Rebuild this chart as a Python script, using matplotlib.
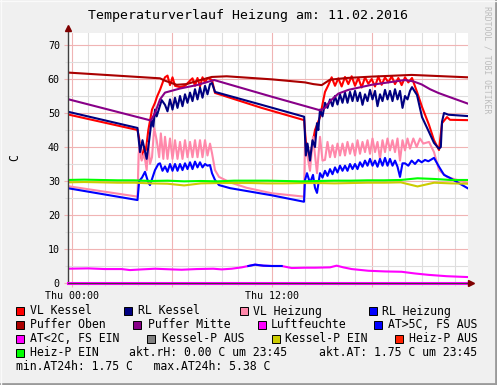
import numpy as np
import matplotlib
matplotlib.use("Agg")
import matplotlib.pyplot as plt
from matplotlib.lines import Line2D
from matplotlib.patches import Rectangle
from matplotlib.ticker import MultipleLocator

# ── Daten (Stunden ab Thu 00:00, Werte in °C) ───────────────────────
t_vlk = [-0.25, 3.95, 4.05, 4.2, 4.35, 4.45, 4.6, 4.82, 5.0, 5.12, 5.3, 5.5, 5.6, 5.75, 5.9,
         6.05, 6.2, 6.5, 6.8, 7.1, 7.25, 7.4, 7.55, 7.7, 7.85, 8.0, 8.15, 8.3, 8.42, 8.6,
         11.4, 13.95, 14.05, 14.3, 14.45, 14.6, 14.9, 15.1, 15.2, 15.4, 15.6, 15.8, 16.0,
         16.2, 16.4, 16.6, 16.8, 17.0, 17.2, 17.4, 17.6, 17.8, 18.0, 18.2, 18.4, 18.6, 18.8,
         19.0, 19.2, 19.4, 19.6, 19.8, 20.0, 20.2, 20.42, 20.72, 21.02, 21.44, 21.74, 22.04,
         22.22, 22.52, 22.7, 23.75]
vl_kessel = [49.6, 45.0, 42.5, 36.5, 40.0, 39.0, 45.0, 51.0, 53.0, 54.8, 56.8, 59.5, 60.5, 61.0, 58.2,
             60.5, 58.0, 57.6, 58.0, 59.5, 60.2, 58.0, 60.3, 57.8, 60.5, 59.0, 60.3, 60.0, 59.7, 55.9,
             51.5, 47.9, 41.5, 37.0, 41.0, 45.0, 48.8, 53.8, 56.2, 58.2, 60.5, 58.0, 60.2,
             57.8, 60.6, 58.5, 60.8, 58.0, 60.3, 57.5, 60.5, 58.6, 60.0, 57.8, 60.7, 58.3, 60.5,
             59.0, 60.8, 58.5, 60.3, 58.2, 60.5, 59.0, 60.3, 56.2, 51.8, 46.5, 42.0, 39.1,
             47.0, 48.8, 48.0, 47.9]

t_rlk = [-0.25, 3.95, 4.1, 4.25, 4.5, 4.6, 4.8, 4.9, 5.0, 5.1, 5.4, 5.6, 5.75, 5.9, 6.05, 6.2,
         6.35, 6.5, 6.65, 6.8, 6.95, 7.1, 7.25, 7.4, 7.55, 7.7, 7.85, 8.0, 8.15, 8.3, 8.42, 8.6,
         11.4, 13.95, 14.05, 14.15, 14.3, 14.45, 14.6, 14.72, 14.8, 14.9, 15.05, 15.2, 15.35,
         15.5, 15.65, 15.8, 15.95, 16.1, 16.25, 16.4, 16.55, 16.7, 16.85, 17.0, 17.15, 17.3,
         17.45, 17.6, 17.75, 17.9, 18.05, 18.2, 18.35, 18.5, 18.65, 18.8, 18.95, 19.1, 19.25,
         19.4, 19.55, 19.7, 19.85, 20.0, 20.15, 20.3, 20.42, 20.72, 21.02, 21.44, 21.74, 22.04,
         22.15, 22.22, 22.34, 22.6, 23.75]
rl_kessel = [50.4, 45.6, 38.5, 42.0, 36.5, 40.0, 48.0, 46.0, 51.0, 49.0, 53.8, 52.4, 50.5, 54.0, 51.0, 54.5,
             51.5, 55.0, 52.0, 55.5, 53.0, 56.0, 53.5, 57.0, 54.0, 57.5, 54.5, 58.0, 55.5, 58.5, 58.8, 56.2,
             52.4, 48.9, 37.5, 41.0, 36.0, 42.0, 40.0, 47.0, 45.0, 51.0, 49.0, 53.0, 51.5,
             54.0, 52.0, 55.0, 52.5, 55.5, 53.0, 56.0, 53.0, 56.2, 53.5, 56.5, 53.5, 56.0,
             52.4, 55.5, 53.5, 56.8, 54.0, 56.5, 52.0, 55.5, 53.5, 56.8, 54.0, 56.5, 53.5,
             57.0, 54.0, 56.5, 51.5, 55.0, 54.0, 56.5, 57.6, 55.3, 48.8, 44.4, 41.2, 39.5,
             40.0, 47.4, 50.0, 49.5, 49.1]

t_vlh = [-0.25, 3.95, 4.02, 4.1, 4.2, 4.35, 4.5, 4.6, 4.7, 4.82, 4.95, 5.1, 5.25, 5.35, 5.5, 5.6,
         5.75, 5.9, 6.05, 6.2, 6.35, 6.5, 6.65, 6.8, 6.95, 7.1, 7.25, 7.4, 7.55, 7.7, 7.85, 8.0,
         8.15, 8.3, 8.42, 8.6, 8.84, 9.5, 10.5, 12.0, 13.94, 14.0, 14.12, 14.3, 14.48, 14.72,
         14.9, 15.05, 15.2, 15.35, 15.5, 15.65, 15.8, 15.95, 16.1, 16.25, 16.4, 16.55, 16.7,
         16.85, 17.0, 17.15, 17.3, 17.45, 17.6, 17.75, 17.9, 18.05, 18.2, 18.35, 18.5, 18.65,
         18.8, 18.95, 19.1, 19.25, 19.4, 19.55, 19.7, 19.85, 20.0, 20.15, 20.3, 20.5, 20.7,
         20.9, 21.1, 21.44, 21.74, 22.04, 22.52, 23.75]
vl_heizung = [28.5, 25.4, 38.0, 41.0, 36.0, 38.0, 33.2, 41.2, 35.0, 37.0, 45.6, 42.0, 37.0, 44.0, 36.5, 43.0,
              36.5, 42.5, 36.5, 42.0, 36.5, 41.5, 36.5, 42.0, 37.0, 41.5, 37.0, 42.0, 37.0, 42.0, 37.0, 42.0,
              37.5, 41.0, 38.2, 33.2, 31.2, 29.6, 28.0, 26.4, 25.4, 41.2, 38.0, 33.0, 43.0, 32.3,
              43.0, 36.0, 36.2, 41.5, 37.0, 40.5, 37.0, 41.0, 37.5, 41.0, 37.5, 41.5, 38.0,
              41.0, 37.5, 42.0, 38.0, 41.5, 38.5, 42.0, 38.0, 42.5, 38.5, 41.5, 36.5, 42.0,
              38.5, 42.5, 39.0, 42.0, 38.5, 42.5, 36.0, 42.0, 39.0, 42.5, 39.5, 42.5, 40.0,
              42.5, 41.0, 41.5, 38.5, 33.2, 31.2, 29.4]

t_rlh = [-0.25, 3.95, 4.05, 4.22, 4.4, 4.6, 4.7, 4.85, 5.0, 5.2, 5.3, 5.45, 5.6, 5.75, 5.9, 6.05,
         6.2, 6.35, 6.5, 6.65, 6.8, 6.95, 7.1, 7.25, 7.4, 7.55, 7.7, 7.85, 8.0, 8.15, 8.3, 8.42,
         8.6, 8.84, 9.5, 11.4, 12.0, 13.94, 14.0, 14.12, 14.3, 14.48, 14.6, 14.72, 14.9, 15.05,
         15.2, 15.35, 15.5, 15.65, 15.8, 15.95, 16.1, 16.25, 16.4, 16.55, 16.7, 16.85, 17.0,
         17.15, 17.3, 17.45, 17.6, 17.75, 17.9, 18.05, 18.2, 18.35, 18.5, 18.65, 18.8, 18.95,
         19.1, 19.25, 19.4, 19.55, 19.7, 19.85, 20.0, 20.2, 20.4, 20.6, 20.8, 21.0, 21.2, 21.4,
         21.74, 22.04, 22.34, 22.7, 23.75]
rl_heizung = [27.9, 24.4, 30.0, 31.0, 32.7, 29.5, 28.8, 31.0, 33.2, 35.0, 35.2, 33.0, 34.3, 32.7, 35.0, 33.0,
              35.0, 33.0, 35.0, 33.2, 35.2, 33.5, 35.5, 33.5, 35.7, 34.0, 35.5, 34.0, 35.0, 34.5, 34.7, 32.3,
              30.3, 28.8, 27.9, 26.3, 25.8, 23.9, 30.3, 32.3, 29.4, 31.8, 28.0, 26.5, 32.3, 31.0,
              33.0, 31.5, 33.5, 32.0, 34.0, 32.5, 34.5, 33.0, 34.5, 33.0, 35.0, 33.5, 35.0,
              33.5, 35.5, 34.2, 36.0, 34.5, 36.5, 34.5, 36.0, 34.2, 36.5, 34.5, 36.8, 34.5,
              36.5, 34.5, 36.0, 34.2, 31.2, 35.2, 35.2, 34.5, 36.0, 35.0, 36.2, 35.5, 36.2, 35.8,
              36.8, 34.2, 31.8, 30.9, 27.9]

t_po = [-0.25, 5.3, 5.6, 6.3, 6.9, 7.5, 8.4, 9.3, 12.0, 14.0, 14.5, 15.0, 15.5, 16.5, 18.0, 20.4, 23.75]
puffer_oben = [61.9, 60.2, 59.5, 58.3, 58.5, 59.4, 60.6, 60.8, 59.9, 59.0, 58.5, 58.2, 59.8, 60.3, 60.7, 61.2, 60.5]

t_pm = [-0.25, 4.75, 5.0, 5.3, 5.6, 6.5, 7.5, 8.55, 12.0, 14.9, 15.2, 15.5, 16.0, 16.6, 18.0,
        20.0, 20.5, 21.0, 21.5, 22.0, 22.5, 23.75]
puffer_mitte = [54.1, 47.8, 50.0, 54.0, 56.0, 57.2, 58.2, 59.7, 54.8, 50.8, 51.5, 53.5, 55.7, 56.8, 58.3,
                59.7, 59.3, 58.4, 57.0, 55.9, 55.0, 52.8]

t_hour = [-0.25, 0.75, 1.75, 2.75, 3.75, 4.75, 5.75, 6.75, 7.75, 8.75, 9.75, 10.75, 11.75,
          12.75, 13.75, 14.75, 15.75, 16.75, 17.75, 18.75, 19.75, 20.75, 21.75, 22.75, 23.75]
heizp_ein = [30.3, 30.4, 30.3, 30.2, 30.2, 30.0, 30.1, 29.9, 30.0, 29.9, 30.1, 30.1, 30.1,
             30.0, 29.9, 30.0, 30.1, 30.1, 30.2, 30.2, 30.3, 30.8, 30.6, 30.3, 30.3]
kesselp_ein = [29.6, 29.7, 29.6, 29.5, 29.5, 29.3, 29.2, 28.7, 29.3, 29.4, 29.4, 29.4, 29.3,
               29.3, 29.4, 29.4, 29.3, 29.4, 29.5, 29.5, 29.6, 28.4, 29.5, 29.3, 29.2]

t_at = [-0.25, 1.0, 2.0, 3.0, 3.5, 4.2, 5.0, 6.0, 6.6, 7.5, 8.5, 9.0, 9.6, 10.2, 10.6, 11.0,
        11.5, 12.0, 12.6, 13.2, 14.0, 14.6, 15.5, 15.9, 16.3, 16.8, 17.8, 18.8, 19.8, 20.6,
        21.4, 22.5, 23.75]
aussen = [4.2, 4.3, 4.1, 4.1, 3.8, 4.0, 4.2, 4.0, 3.9, 4.1, 4.2, 4.0, 4.2, 4.6, 5.0, 5.4,
          5.1, 5.0, 5.0, 4.4, 4.5, 4.5, 4.6, 5.1, 4.6, 4.1, 3.6, 3.4, 3.3, 2.8,
          2.4, 2.0, 1.75]

t_rh = [-0.25, 23.75]
luftfeuchte = [0.0, 0.0]

leg_labels = ["VL Kessel", "RL Kessel", "VL Heizung", "RL Heizung",
              "Puffer Oben", "Puffer Mitte", "Luftfeuchte", "AT>5C, FS AUS",
              "AT<2C, FS EIN", "Kessel-P AUS", "Kessel-P EIN", "Heiz-P AUS",
              "Heiz-P EIN"]
leg_colors = ["#ff0000", "#000080", "#ff88aa", "#0000ff",
              "#aa0000", "#880088", "#ff00ff", "#0000ff",
              "#ff00ff", "#808080", "#cccc00", "#ff2000",
              "#00ff00"]
info_lines = ["akt.rH: 0.00 C um 23:45", "akt.AT: 1.75 C um 23:45",
              "min.AT24h: 1.75 C   max.AT24h: 5.38 C"]

# ── Layout (Pixel) ──────────────────────────────────────────────────
W, H = 497, 385
MONO = "DejaVu Sans Mono"
GRID_MAJ, GRID_MIN = "#f0b4b4", "#dedede"
leg_pos = [(16, 30, 311), (124, 137.5, 311), (239.5, 252.5, 311), (368.5, 382, 311),
           (16, 30, 325), (133, 147.5, 325), (257.5, 270.5, 325), (374, 388, 325),
           (16, 30, 339), (147, 161.5, 339), (272, 285, 339), (395, 409, 339),
           (16, 30, 353)]
info_pos = [(129, 353), (319, 353), (16.5, 367)]


def fx(x):
    return x / W


def fy(y):
    return 1 - y / H


fig = plt.figure(figsize=(W / 100, H / 100), dpi=100, facecolor="#f0f0f0")
ax = fig.add_axes([fx(67.5), fy(283), 400 / W, 250 / H])
ax.set_facecolor("white")

lw = 1.5
ax.plot(t_vlk, vl_kessel, color="#ff0000", lw=lw)
ax.plot(t_vlh, vl_heizung, color="#ff88aa", lw=lw)
ax.plot(t_rlh, rl_heizung, color="#0000ff", lw=lw)
ax.plot(t_rlk, rl_kessel, color="#000080", lw=lw)
ax.plot(t_po, puffer_oben, color="#aa0000", lw=lw)
ax.plot(t_pm, puffer_mitte, color="#880088", lw=lw)
ax.plot(t_hour, kesselp_ein, color="#cccc00", lw=lw)
ax.plot(t_hour, heizp_ein, color="#00ff00", lw=lw)
at = np.array(aussen)
ax.plot(t_at, at, color="#ff00ff", lw=lw)
ax.plot(t_at, np.where(at >= 5.0, at, np.nan), color="#0000ff", lw=lw)
ax.plot(t_rh, luftfeuchte, color="#ff00ff", lw=2.2, clip_on=False, zorder=5)

ax.set_xlim(-0.25, 23.75)
ax.set_ylim(0, 250 / 3.4)
ax.set_xticks([0, 6, 12, 18], ["Thu 00:00", "", "Thu 12:00", ""])
ax.xaxis.set_minor_locator(MultipleLocator(1))
ax.set_yticks(range(0, 71, 10))
ax.yaxis.set_minor_locator(MultipleLocator(5))
ax.grid(which="minor", color=GRID_MIN, lw=0.8)
ax.grid(which="major", color=GRID_MAJ, lw=0.8)
ax.set_axisbelow(True)
ax.tick_params(which="major", length=3, width=0.8, color=GRID_MAJ, pad=2.5,
               labelsize=7.2, labelfontfamily=MONO, labelcolor="#000000")
ax.tick_params(which="minor", length=2, width=0.8, color=GRID_MIN)
for s in ["top", "right", "bottom", "left"]:
    ax.spines[s].set_visible(False)

# Achsen mit Pfeilen
ax.add_line(Line2D([0, 0], [0, 1.02], transform=ax.transAxes, color="#404040",
                   lw=1, clip_on=False))
ax.add_line(Line2D([0, 1.005], [0, 0], transform=ax.transAxes, color="#404040",
                   lw=0.8, clip_on=False, zorder=6))
ax.plot([0], [1.02], marker="^", ms=4.5, color="#800000", transform=ax.transAxes,
        clip_on=False)
ax.plot([1.008], [0], marker=">", ms=4.5, color="#800000", transform=ax.transAxes,
        clip_on=False, zorder=7)

ax.set_ylabel("C", family=MONO, fontsize=8.3, labelpad=19)

fig.text(0.5 + fx(-0.5), fy(16), "Temperaturverlauf Heizung am: 11.02.2016",
         ha="center", va="center", family=MONO, fontsize=9.5)
fig.text(fx(487), fy(6), "RRDTOOL / TOBI OETIKER", rotation=270, ha="center",
         va="top", family=MONO, fontsize=5.9, color="#bcbcbc")

# Legende
for (sx, tx, y), lab, col in zip(leg_pos, leg_labels, leg_colors):
    fig.add_artist(Rectangle((fx(sx), fy(y + 4)), 8 / W, 8 / H, transform=fig.transFigure,
                             facecolor=col, edgecolor="#000000", lw=0.7))
    fig.text(fx(tx), fy(y), lab, ha="left", va="center", family=MONO, fontsize=8.3)
for (x, y), s in zip(info_pos, info_lines):
    fig.text(fx(x), fy(y), s, ha="left", va="center", family=MONO, fontsize=8.3)

# Rahmen
fig.add_artist(Line2D([0, 1], [fy(384), fy(384)], transform=fig.transFigure,
                      color="#9a9a9a", lw=2))
fig.add_artist(Line2D([fx(496), fx(496)], [0, 1], transform=fig.transFigure,
                      color="#9a9a9a", lw=2))
fig.add_artist(Line2D([0, 1], [fy(0.5), fy(0.5)], transform=fig.transFigure,
                      color="#fafafa", lw=1))
fig.add_artist(Line2D([fx(0.5), fx(0.5)], [0, 1], transform=fig.transFigure,
                      color="#fafafa", lw=1))

fig.savefig("out.png", dpi=100, facecolor=fig.get_facecolor())
